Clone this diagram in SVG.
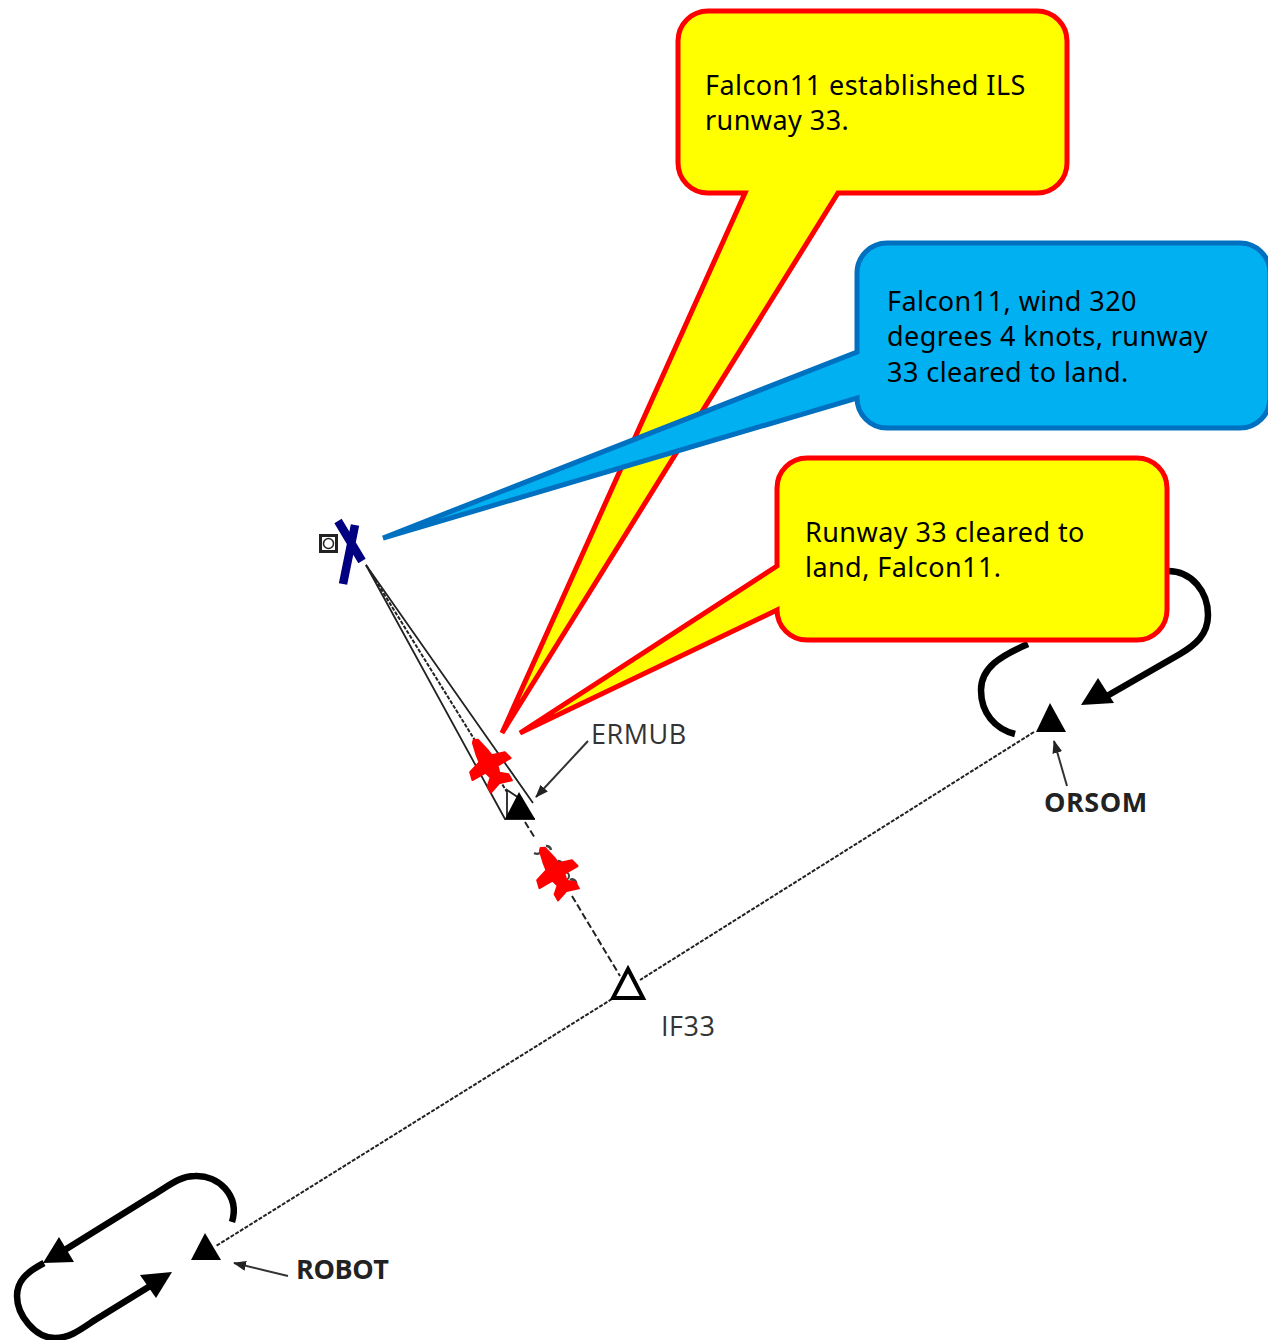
<svg xmlns="http://www.w3.org/2000/svg" width="1268" height="1340" viewBox="0 0 1268 1340">
<defs>
<marker id="sm" markerUnits="userSpaceOnUse" markerWidth="13" markerHeight="10" refX="12" refY="5" orient="auto"><path d="M0 0L13 5L0 10Z" fill="#222"/></marker>
<path id="jet" d="M-1-27L3-25L6-12L7-5L20-1L22 7L7 7L5 14L12 20L12 27L0 23L-12 27L-12 20L-5 14L-7 7L-22 7L-20-1L-7-5L-6-12L-3-25Z"/>
</defs>
<style>
.y{fill:#ff0;stroke:#f00;stroke-width:5;stroke-linejoin:miter}
.b{fill:#00b0f0;stroke:#0070c0;stroke-width:5;stroke-linejoin:miter}
.t{font-family:"Noto Sans","DejaVu Sans",sans-serif;font-size:27px;letter-spacing:.44px;fill:#000}
.l{font-family:"Open Sans","Liberation Sans",sans-serif;font-size:27px;letter-spacing:.5px;fill:#333}
.lb{font-family:"Open Sans","Liberation Sans",sans-serif;font-size:27px;font-weight:700;fill:#222}
.hold{fill:none;stroke:#000;stroke-width:6.5;stroke-linecap:butt}
.thin{fill:none;stroke:#222;stroke-width:1.8}
.dash{fill:none;stroke:#222;stroke-width:2;stroke-dasharray:4 1.5}
.dash2{fill:none;stroke:#222;stroke-width:2;stroke-dasharray:7 3}
.lead{fill:none;stroke:#333;stroke-width:2}
.red{fill:#f00;stroke:#f00;stroke-width:2;stroke-linejoin:round}
</style>

<g id="connectors">
<path class="dash" d="M1034 732L640 980M612 999L216 1246"/>
<path class="dash2" d="M525 822L535 838M572 896L620 976"/>
<path class="thin" d="M366 565L505 819L535 819M366 565L533 803"/>
<path class="dash" d="M366 565L507 792"/>
<path class="thin" d="M507 819V790L522 800"/>
<path class="lead" marker-end="url(#sm)" d="M588 741L536 797"/>
<path class="lead" marker-end="url(#sm)" d="M1067 786L1054 741"/>
<path class="lead" marker-end="url(#sm)" d="M288 1276L234 1263"/>
<path class="hold" d="M1168 571C1192 571 1208 592 1208 615C1208 635 1195 645 1180 654L1100 700"/>
<path class="hold" d="M1028 644C1000 656 981 668 981 690C981 713 995 729 1015 734"/>
<path class="hold" d="M232 1222C240 1195 218 1175 195 1176C180 1176 170 1185 150 1197L55 1256"/>
<path class="hold" d="M44 1263C25 1273 17 1282 17 1296C17 1315 35 1338 55 1338C70 1338 80 1330 95 1320L155 1283"/>
<path d="M1081 705L1098 678L1114 703Z" fill="#000"/>
<path d="M43 1263L59 1237L74 1262Z" fill="#000"/>
<path d="M172 1272L140 1275L156 1298Z" fill="#000"/>
</g>

<g id="ERMUB">
<path d="M519 792L535 819L505 819Z" fill="#000"/>
<text class="l" x="591" y="744">ERMUB</text>
</g>
<g id="ORSOM">
<path d="M1050 703L1066 732L1036 732Z" fill="#000"/>
<text class="lb" x="1044" y="812" style="letter-spacing:.5px">ORSOM</text>
</g>
<g id="IF33">
<path d="M628 969L643 998L613 998Z" fill="#fff" stroke="#000" stroke-width="4"/>
<text class="l" x="661" y="1036">IF33</text>
</g>
<g id="ROBOT">
<path d="M205 1233L221 1260L191 1260Z" fill="#000"/>
<text class="lb" x="296" y="1279" style="letter-spacing:-.4px">ROBOT</text>
</g>
<g id="runway">
<rect x="320.500" y="535.500" width="16" height="16" fill="#fff" stroke="#222" stroke-width="3"/>
<circle cx="328.500" cy="543.500" r="5" fill="none" stroke="#222" stroke-width="1.500"/>
<path d="M338 521L362 561M355 525L343 584" fill="none" stroke="#000080" stroke-width="8.500"/>
</g>
<g id="aircraft1"><use href="#jet" class="red" transform="translate(488 763) rotate(-30)"/></g>
<g id="aircraft2">
<path d="M534 853a6 6 0 0 0 8-2M546 846a5 5 0 0 1 5 4M558 861a5 5 0 0 1 5 5M570 880a4 4 0 0 1 6 4" fill="none" stroke="#444" stroke-width="2.500"/>
<circle cx="565" cy="876" r="4" fill="none" stroke="#444" stroke-width="2"/>
<use href="#jet" class="red" transform="translate(555 871) rotate(-30)"/>
</g>

<g id="callout-established">
<path class="y" d="M708 11H1037A30 30 0 0 1 1067 41V163A30 30 0 0 1 1037 193H838L502 733L745 193H708A30 30 0 0 1 678 163V41A30 30 0 0 1 708 11Z"/>
<text class="t" x="705" y="95">Falcon11 established ILS</text>
<text class="t" x="705" y="130">runway 33.</text>
</g>
<g id="callout-cleared">
<path class="b" d="M887 243H1240A30 30 0 0 1 1270 273V398A30 30 0 0 1 1240 428H887A30 30 0 0 1 857 398L383 538L857 352V273A30 30 0 0 1 887 243Z"/>
<text class="t" x="887" y="311">Falcon11, wind 320</text>
<text class="t" x="887" y="346">degrees 4 knots, runway</text>
<text class="t" x="887" y="382">33 cleared to land.</text>
</g>
<g id="callout-readback">
<path class="y" d="M807 458H1137A30 30 0 0 1 1167 488V610A30 30 0 0 1 1137 640H807A30 30 0 0 1 777 610L520 733L777 566V488A30 30 0 0 1 807 458Z"/>
<text class="t" x="805" y="542">Runway 33 cleared to</text>
<text class="t" x="805" y="577">land, Falcon11.</text>
</g>
</svg>
